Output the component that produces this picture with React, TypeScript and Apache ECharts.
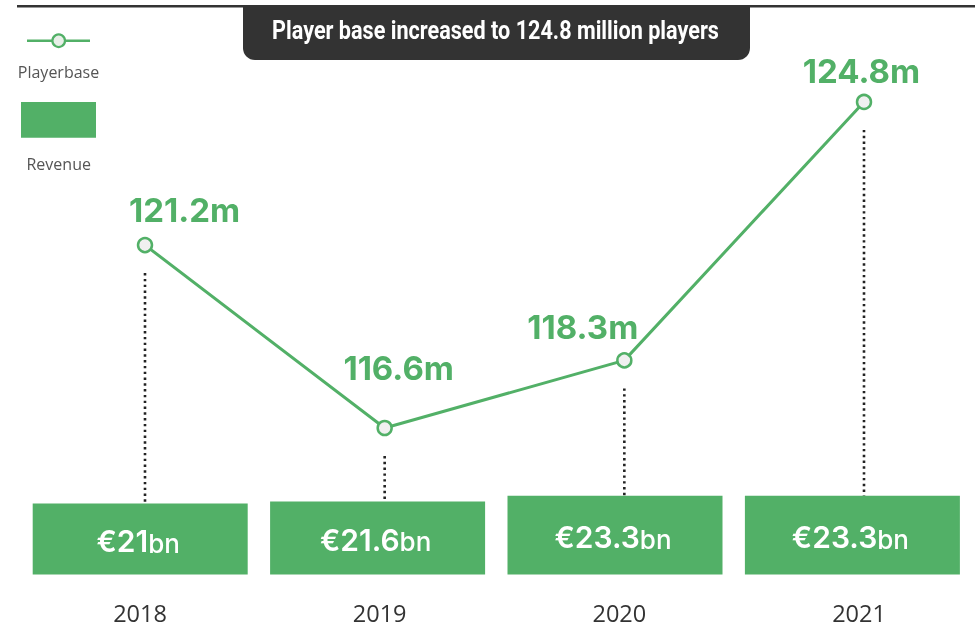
import React, { useEffect, useRef } from 'react';
import * as echarts from 'echarts';

// ---- data ----
const years = ['2018', '2019', '2020', '2021'];
const playerbase = [121.2, 116.6, 118.3, 124.8];
const revenue = [21, 21.6, 23.3, 23.3];
const titleText = 'Player base increased to 124.8 million players';
const legendNames = ['Playerbase', 'Revenue'];

// ---- layout (not data) ----
const lineLabelOffsets = [[39.5, -35], [14, -59.5], [-41.5, -33.5], [-2.5, -30.5]];
const GREEN = '#52B067';
const DARK = '#333333';

export default function App() {
  const ref = useRef<HTMLDivElement>(null);

  useEffect(() => {
    document.body.style.margin = '0';
    const chart = echarts.init(ref.current!, null, { renderer: 'svg' });

    const ctx = document.createElement('canvas').getContext('2d')!;
    ctx.font = 'bold 25px Roboto';
    const tw = ctx.measureText(titleText).width;
    const titleScale = 447 / tw;

    const option: any = {
      animation: false,
      grid: [
        { left: 21.5, right: 6.9, top: 473.1, bottom: 53.5 },
        { left: 145, right: 114, top: 94, bottom: 136.4 },
      ],
      xAxis: [
        {
          type: 'category', gridIndex: 0, data: years,
          axisLine: { show: false }, axisTick: { show: false }, axisLabel: { show: false },
        },
        {
          type: 'category', gridIndex: 1, data: years, boundaryGap: false,
          axisLine: { show: false }, axisTick: { show: false },
          axisLabel: {
            show: true, margin: 121, fontSize: 23.5, color: DARK,
            fontFamily: 'Open Sans', verticalAlign: 'middle', padding: [0, 10, 0, 0],
          },
        },
      ],
      yAxis: [
        { type: 'value', gridIndex: 0, min: 0, max: 30, show: false },
        { type: 'value', gridIndex: 1, min: 115, max: 125, show: false },
      ],
      series: [
        {
          name: legendNames[1], type: 'bar', xAxisIndex: 0, yAxisIndex: 0,
          data: revenue, barWidth: 215,
          itemStyle: { color: GREEN },
          label: {
            show: true, position: 'inside', offset: [-2, 0],
            formatter: (p: any) => `{a|€${p.value}}{b|bn}`,
            rich: {
              a: { fontFamily: 'Inter', fontWeight: 600, fontSize: 30, color: '#fff', verticalAlign: 'bottom', lineHeight: 34 },
              b: { fontFamily: 'Inter', fontWeight: 500, fontSize: 26, color: '#fff', verticalAlign: 'bottom', lineHeight: 34 },
            },
          },
        },
        {
          name: legendNames[0], type: 'line', xAxisIndex: 1, yAxisIndex: 1,
          data: playerbase.map((v, i) => ({ value: v, label: { offset: lineLabelOffsets[i] } })),
          symbol: 'circle', symbolSize: 14,
          lineStyle: { color: GREEN, width: 3 },
          itemStyle: { color: '#f0f0f0', borderColor: GREEN, borderWidth: 2.5 },
          label: {
            show: true, position: 'inside', align: 'center', verticalAlign: 'middle',
            formatter: (p: any) => `${p.value}m`,
            fontFamily: 'Inter', fontWeight: 700, fontSize: 33, color: GREEN,
          },
        },
      ],
    };
    chart.setOption(option);

    const dots: any[] = years.map((_, i) => {
      const p = chart.convertToPixel({ gridIndex: 1 } as any, [i, playerbase[i]]) as number[];
      const b = chart.convertToPixel({ gridIndex: 0 } as any, [i, revenue[i]]) as number[];
      return {
        type: 'line', z: 1,
        shape: { x1: p[0], y1: p[1] + 28, x2: p[0], y2: b[1] },
        style: { stroke: '#222', lineWidth: 2.6, lineDash: [2.4, 3.4] },
      };
    });

    chart.setOption({
      graphic: [
        { type: 'line', shape: { x1: 17, y1: 6.2, x2: 975, y2: 6.2 }, style: { stroke: DARK, lineWidth: 2.4 } },
        { type: 'rect', shape: { x: 243, y: 6, width: 507, height: 54, r: [0, 0, 12, 12] }, style: { fill: DARK } },
        {
          type: 'text', x: 495.5, y: 30, scaleX: titleScale,
          style: { text: titleText, fill: '#fff', font: 'bold 25px Roboto', align: 'center', verticalAlign: 'middle' },
        },
        { type: 'line', shape: { x1: 27, y1: 40.7, x2: 90, y2: 40.7 }, style: { stroke: GREEN, lineWidth: 2.5 } },
        { type: 'circle', shape: { cx: 58.7, cy: 40.7, r: 6.3 }, style: { fill: '#e8efe8', stroke: GREEN, lineWidth: 2.2 } },
        {
          type: 'text', x: 58.5, y: 72,
          style: { text: legendNames[0], fill: '#555', font: '16px "Open Sans"', align: 'center', verticalAlign: 'middle' },
        },
        { type: 'rect', shape: { x: 21, y: 102, width: 75, height: 35.7 }, style: { fill: GREEN } },
        {
          type: 'text', x: 58.7, y: 164,
          style: { text: legendNames[1], fill: '#555', font: '16px "Open Sans"', align: 'center', verticalAlign: 'middle' },
        },
        ...dots,
      ],
    });

    return () => chart.dispose();
  }, []);

  return <div ref={ref} style={{ position: 'fixed', left: 0, top: 0, width: 978, height: 628 }} />;
}
